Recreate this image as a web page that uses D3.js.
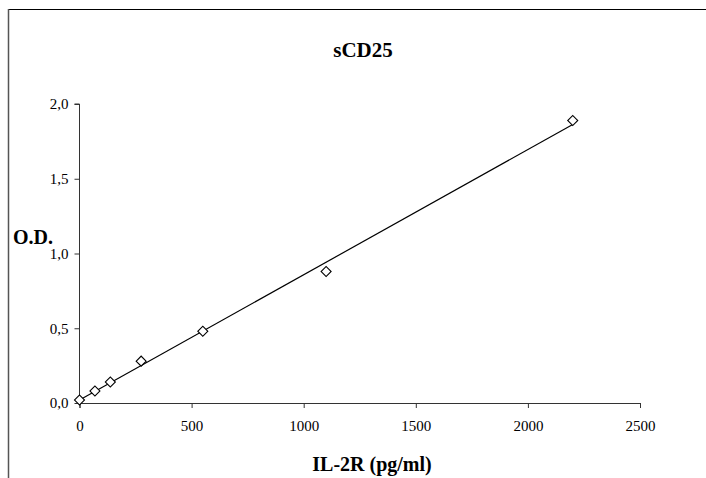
<!DOCTYPE html>
<html>
<head>
<meta charset="utf-8">
<script src="https://cdn.jsdelivr.net/npm/d3@7"></script>
<style>
  body { margin: 0; background: #fff; }
  svg { display: block; }
</style>
</head>
<body>
<div class="chart"></div>
<script>
// standard curve values
const conc = [0, 68.75, 137.5, 275, 550, 1100, 2200]
const od = [0.02, 0.08, 0.14, 0.28, 0.48, 0.88, 1.89]
const xTicks = [0, 500, 1000, 1500, 2000, 2500]
const yTicks = [0, 0.5, 1.0, 1.5, 2.0]

const W = 706
const H = 478
const serif = "'Liberation Serif', 'Times New Roman', serif"

const svg = d3.select(".chart")
              .append("svg")
              .attr("width", W)
              .attr("height", H)

// chart frame (cut off on the right and bottom)
svg.append("line")
  .attr("x1", 8).attr("x2", W).attr("y1", 9.5).attr("y2", 9.5)
  .attr("stroke", "#000").attr("stroke-width", 1)
svg.append("line")
  .attr("x1", 8.5).attr("x2", 8.5).attr("y1", 9).attr("y2", H)
  .attr("stroke", "#555").attr("stroke-width", 1.5)

const xScale = d3.scaleLinear()
                  .domain([0, 2500])
                  .range([79.5, 640])
const yScale = d3.scaleLinear()
                  .domain([0, 2])
                  .range([403, 104])

const xAxis = d3.axisBottom(xScale)
                .tickValues(xTicks)
                .tickSize(5)
                .tickPadding(12)
                .tickFormat(d3.format("d"))
const yAxis = d3.axisLeft(yScale)
                .tickValues(yTicks)
                .tickSize(5)
                .tickPadding(6)
                .tickFormat(d => d3.format(".1f")(d).replace(".", ","))

const gx = svg.append("g")
  .attr("transform", `translate(0,${yScale(0)})`)
  .call(xAxis)
const gy = svg.append("g")
  .attr("transform", `translate(${xScale(0)},0)`)
  .call(yAxis)

for (const g of [gx, gy]) {
  g.select(".domain").attr("stroke", "#333")
  g.selectAll(".tick line").attr("stroke", "#333")
  g.selectAll("text")
    .attr("fill", "#000")
    .style("font-family", serif)
    .style("font-size", "15px")
}
gy.select(".domain").attr("d", `M-5,${yScale(2)}H0V${yScale(0)}`)

// linear trend line (least squares)
const mx = d3.mean(conc)
const my = d3.mean(od)
const slope = d3.sum(conc, (d, i) => (d - mx) * (od[i] - my)) / d3.sum(conc, d => (d - mx) ** 2)
const icept = my - slope * mx
const xr = d3.extent(conc)

svg.append("line")
  .attr("x1", xScale(xr[0])).attr("y1", yScale(icept + slope * xr[0]))
  .attr("x2", xScale(xr[1])).attr("y2", yScale(icept + slope * xr[1]))
  .attr("stroke", "#000")
  .attr("stroke-width", 1.2)

// diamond markers
const diamond = d3.symbol().type(d3.symbolSquare).size(50)
svg.selectAll("path.pt")
  .data(conc)
  .enter()
  .append("path")
  .classed("pt", true)
  .attr("d", diamond)
  .attr("transform", (d, i) => `translate(${xScale(d)},${yScale(od[i])}) rotate(45)`)
  .attr("fill", "#fff")
  .attr("stroke", "#000")
  .attr("stroke-width", 1.1)

// titles
svg.append("text")
  .attr("x", 363).attr("y", 57)
  .attr("text-anchor", "middle")
  .style("font-family", serif)
  .style("font-weight", "bold")
  .style("font-size", "21px")
  .text("sCD25")

svg.append("text")
  .attr("x", 13).attr("y", 244)
  .style("font-family", serif)
  .style("font-weight", "bold")
  .style("font-size", "20px")
  .text("O.D.")

svg.append("text")
  .attr("x", 372).attr("y", 471)
  .attr("text-anchor", "middle")
  .style("font-family", serif)
  .style("font-weight", "bold")
  .style("font-size", "20px")
  .text("IL-2R (pg/ml)")
</script>
</body>
</html>
